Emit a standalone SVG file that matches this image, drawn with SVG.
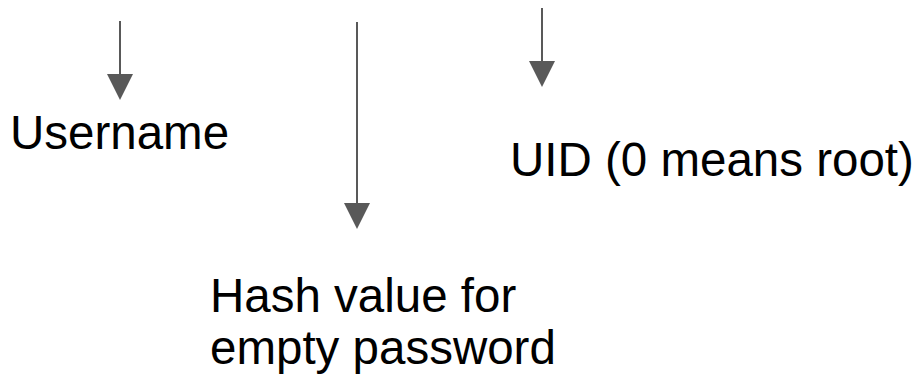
<svg xmlns="http://www.w3.org/2000/svg" width="918" height="379" viewBox="0 0 918 379">
<style>
.c line{stroke:#595959;stroke-width:2}
.c path{fill:#595959}
text{font-family:"Liberation Sans",Arial,sans-serif;font-size:47.5px;fill:#000}
</style>
<rect width="918" height="379" fill="#fff"/>
<g class="c" id="connectors">
<line x1="120" y1="21" x2="120" y2="76"/>
<path d="M107 74 L133 74 L120 100 Z"/>
<line x1="357" y1="22" x2="357" y2="205"/>
<path d="M344 203 L370 203 L357 229 Z"/>
<line x1="542" y1="8" x2="542" y2="63"/>
<path d="M529 61 L555 61 L542 87 Z"/>
</g>
<g id="username"><text x="10" y="149">Username</text></g>
<g id="uid"><text x="510" y="176">UID (0 means root)</text></g>
<g id="hash"><text x="210" y="312">Hash value for</text><text x="210" y="364">empty password</text></g>
</svg>
